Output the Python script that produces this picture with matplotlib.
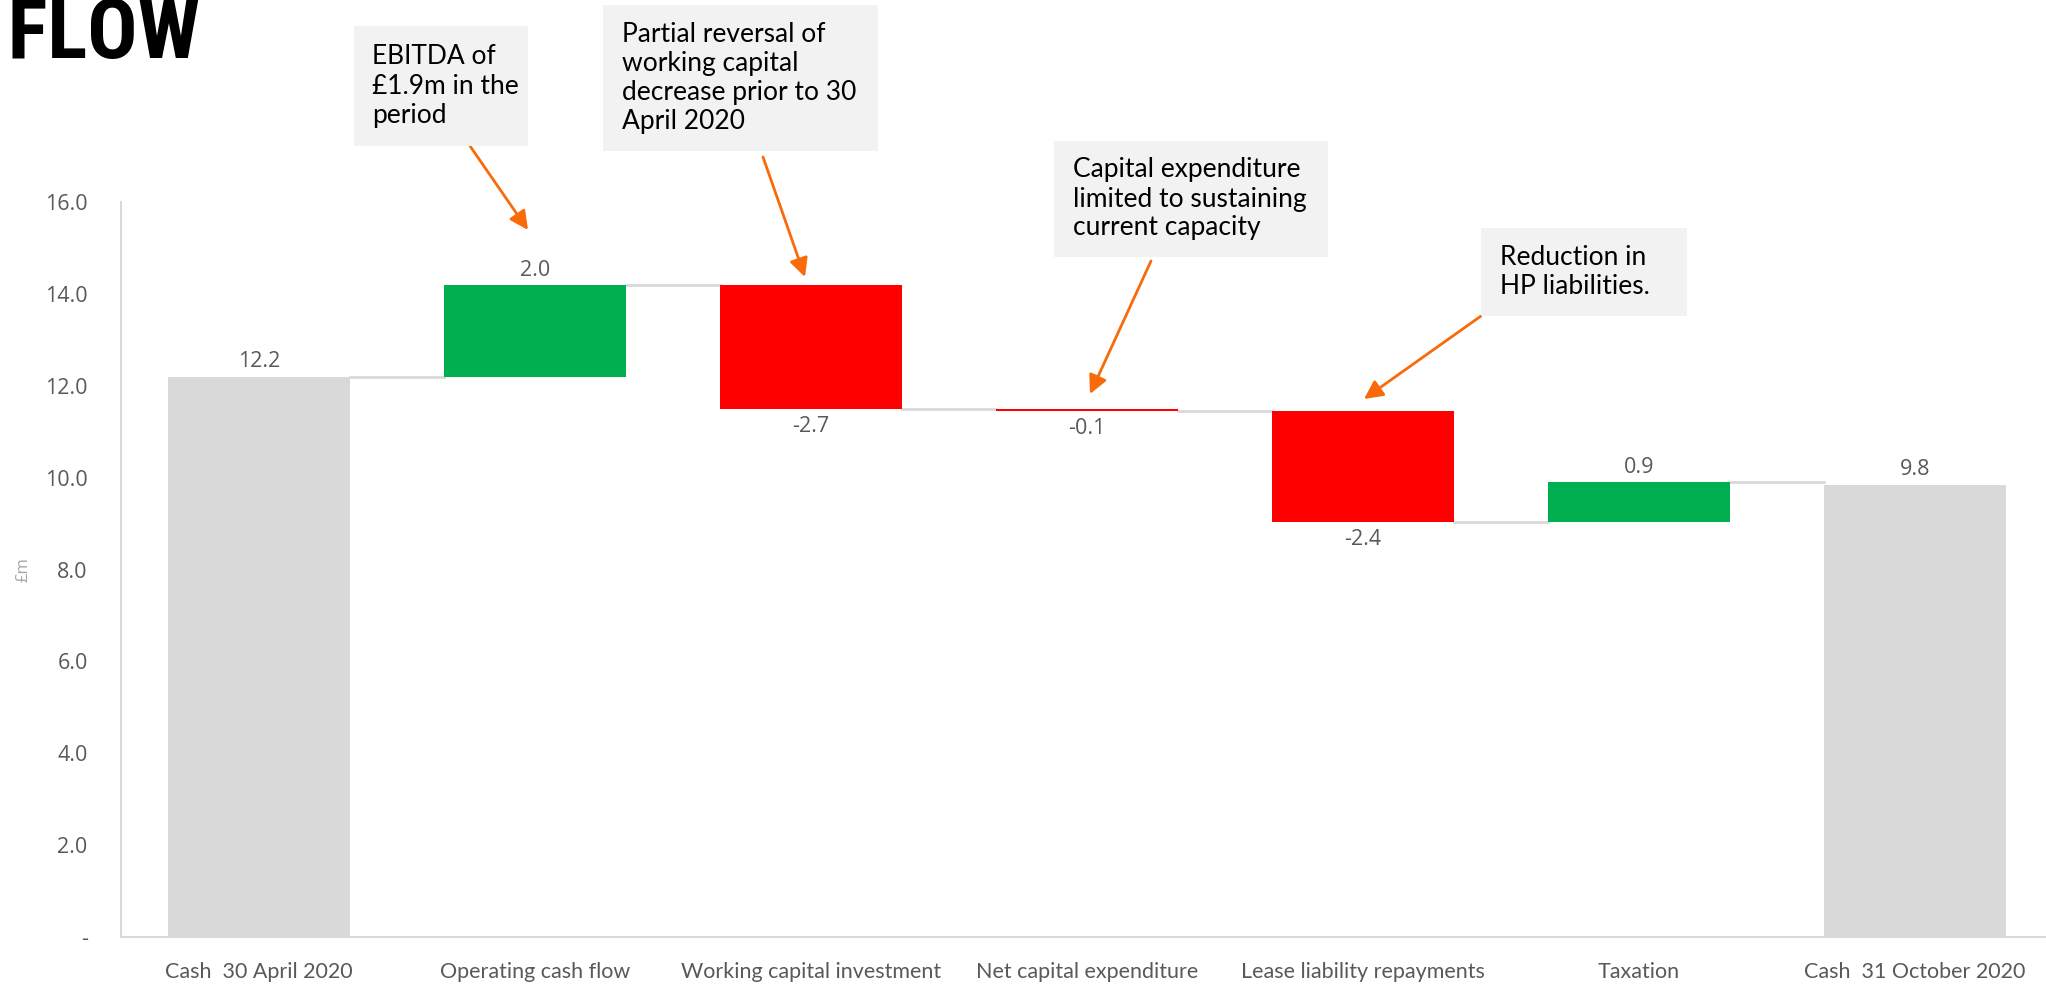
import numpy as np
import matplotlib
matplotlib.use("Agg")
from matplotlib import pyplot as plt

# data
categories = ["Cash  30 April 2020", "Operating cash flow", "Working capital investment",
              "Net capital expenditure", "Lease liability repayments", "Taxation",
              "Cash  31 October 2020"]
opening_cash = 12.2
movements = [2.0, -2.7, -0.06, -2.4, 0.86]
closing_cash = 9.85
y_ticks = [0, 2, 4, 6, 8, 10, 12, 14, 16]

notes = [
    "EBITDA of\n£1.9m in the\nperiod",
    "Partial reversal of\nworking capital\ndecrease prior to 30\nApril 2020",
    "Capital expenditure\nlimited to sustaining\ncurrent capacity",
    "Reduction in\nHP liabilities.",
]

GREEN = "#00B050"
RED = "#FF0000"
GREY = "#D9D9D9"
TEXT = "#595959"
ORANGE = "#F96A0A"
W, H = 2046, 984

fig = plt.figure(figsize=(W / 100, H / 100), dpi=100)
ax = fig.add_axes([121 / W, 1 - 937 / H, 7 * 276 / W, (937 - 202) / H])

# waterfall geometry
bottoms, heights, colors = [0], [opening_cash], [GREY]
level = opening_cash
levels = [level]
for m in movements:
    bottoms.append(level if m >= 0 else level + m)
    heights.append(abs(m))
    colors.append(GREEN if m >= 0 else RED)
    level += m
    levels.append(level)
bottoms.append(0)
heights.append(closing_cash)
colors.append(GREY)

x = np.arange(len(categories))
bw = 0.662
ax.bar(x, heights, bottom=bottoms, width=bw, color=colors, zorder=3)

# connectors
for i, lv in enumerate(levels):
    ax.plot([i + bw / 2, i + 1 - bw / 2], [lv, lv], color=GREY, lw=2, zorder=2)

# value labels
values = [opening_cash] + movements + [closing_cash]
for i, v in enumerate(values):
    if v >= 0:
        y = bottoms[i] + heights[i]
        ax.annotate(f"{v:.1f}", (x[i], y), xytext=(0, 3), textcoords="offset points",
                    ha="center", va="bottom", fontsize=15.5, color=TEXT, family="Open Sans")
    else:
        y = bottoms[i]
        ax.annotate(f"{v:.1f}", (x[i], y), xytext=(0, -5), textcoords="offset points",
                    ha="center", va="top", fontsize=15.5, color=TEXT, family="Open Sans")

ax.set_xlim(-0.5, 6.5)
ax.set_ylim(0, 16)
ax.set_yticks(y_ticks)
ax.set_yticklabels(["-" if t == 0 else f"{t:.1f}" for t in y_ticks],
                   fontsize=15.5, color=TEXT, family="Open Sans")
ax.set_xticks(x)
ax.set_xticklabels(categories, fontsize=15.5, color=TEXT, family="Lato")
ax.tick_params(axis="y", length=0, pad=24)
ax.tick_params(axis="x", length=0, pad=18)
for s in ["top", "right"]:
    ax.spines[s].set_visible(False)
for s in ["left", "bottom"]:
    ax.spines[s].set_color(GREY)
    ax.spines[s].set_linewidth(1.5)

fig.text(23 / W, 1 - 570 / H, "£m", rotation=90, fontsize=12, color="#A6A6A6",
         ha="center", va="center", family="Open Sans")

# title (cropped at the left edge as in the source slide)
fig.text(200 / W, 1 - 58 / H, "CASH FLOW", ha="right", va="baseline", fontsize=60,
         fontweight="bold", fontstretch="condensed", color="black",
         family=["Roboto Condensed", "Open Sans Condensed", "Liberation Sans Narrow",
                 "DejaVu Sans"])

# callout boxes: (left, top, right, bottom) in pixels, text left, arrow tail, arrow head
boxes = [
    ((354, 26, 528, 146), 372, (470, 146), (528, 230)),
    ((603, 5, 878, 151), 622, (763, 157), (805, 277)),
    ((1054, 141, 1328, 257), 1073, (1151, 261), (1090, 394)),
    ((1481, 228, 1687, 316), 1500, (1481, 316), (1364, 399)),
]
for note, (box, tx, tail, head) in zip(notes, boxes):
    l, t, r, b = box
    fig.patches.append(plt.Rectangle((l / W, 1 - b / H), (r - l) / W, (b - t) / H,
                                     transform=fig.transFigure, facecolor="#F2F2F2",
                                     edgecolor="none", zorder=1))
    fig.text(tx / W, 1 - (t + (b - t) / 2) / H, note, ha="left", va="center",
             fontsize=19, color="black", family="Lato", linespacing=1.2, zorder=2)
    ax.annotate("", xy=(head[0] / W, 1 - head[1] / H), xycoords="figure fraction",
                xytext=(tail[0] / W, 1 - tail[1] / H), textcoords="figure fraction",
                arrowprops=dict(arrowstyle="-|>", color=ORANGE, lw=2, mutation_scale=28,
                                shrinkA=0, shrinkB=0), zorder=5)

fig.savefig("out.png", dpi=100)
